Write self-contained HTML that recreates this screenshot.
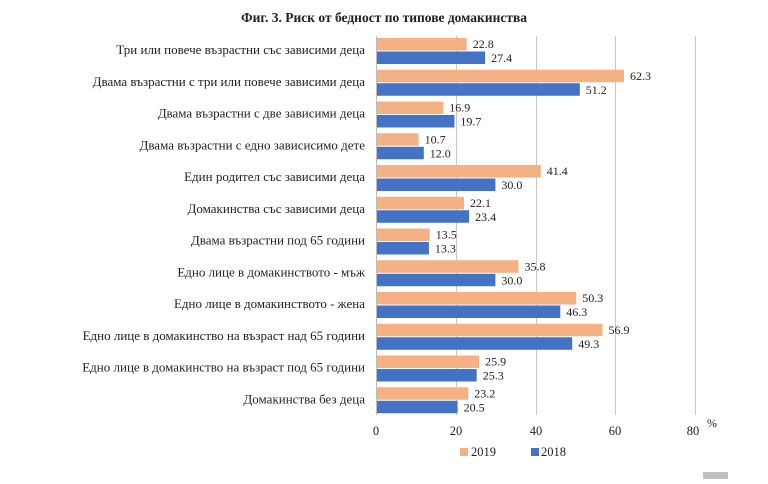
<!DOCTYPE html>
<html><head><meta charset="utf-8"><style>
body{margin:0;background:#fff;}
svg text{font-family:"Liberation Serif",serif;fill:#222;}
.o{fill:#f4b183}.b{fill:#4472c4}
</style></head><body>
<svg width="768" height="479" xmlns="http://www.w3.org/2000/svg">
<text x="384" y="22" text-anchor="middle" font-size="13.5" font-weight="bold">Фиг. 3. Риск от бедност по типове домакинства</text>
<g stroke="#c8c8c8" stroke-width="1">
<line x1="456.5" y1="36" x2="456.5" y2="415"/>
<line x1="536.5" y1="36" x2="536.5" y2="415"/>
<line x1="615.5" y1="36" x2="615.5" y2="415"/>
<line x1="695.5" y1="36" x2="695.5" y2="415"/>
</g>
<g font-size="13" text-anchor="end">
<text x="365" y="54">Три или повече възрастни със зависими деца</text>
<text x="365" y="85.75">Двама възрастни с три или повече зависими деца</text>
<text x="365" y="117.5">Двама възрастни с две зависими деца</text>
<text x="365" y="149.25">Двама възрастни с едно зависисимо дете</text>
<text x="365" y="181">Един родител със зависими деца</text>
<text x="365" y="212.75">Домакинства със зависими деца</text>
<text x="365" y="244.5">Двама възрастни под 65 години</text>
<text x="365" y="276.25">Едно лице в домакинството - мъж</text>
<text x="365" y="308">Едно лице в домакинството - жена</text>
<text x="365" y="339.75">Едно лице в домакинство на възраст над 65 години</text>
<text x="365" y="371.5">Едно лице в домакинство на възраст под 65 години</text>
<text x="365" y="403.25">Домакинства без деца</text>
</g>
<g>
<rect class="o" x="376" y="38" width="90.7" height="12.5"/><rect class="b" x="376" y="51.5" width="109.1" height="12.5"/>
<rect class="o" x="376" y="69.75" width="248" height="12.5"/><rect class="b" x="376" y="83.25" width="203.8" height="12.5"/>
<rect class="o" x="376" y="101.5" width="67.3" height="12.5"/><rect class="b" x="376" y="115" width="78.4" height="12.5"/>
<rect class="o" x="376" y="133.25" width="42.6" height="12.5"/><rect class="b" x="376" y="146.75" width="47.8" height="12.5"/>
<rect class="o" x="376" y="165" width="164.8" height="12.5"/><rect class="b" x="376" y="178.5" width="119.4" height="12.5"/>
<rect class="o" x="376" y="196.75" width="88" height="12.5"/><rect class="b" x="376" y="210.25" width="93.1" height="12.5"/>
<rect class="o" x="376" y="228.5" width="53.7" height="12.5"/><rect class="b" x="376" y="242" width="52.9" height="12.5"/>
<rect class="o" x="376" y="260.25" width="142.5" height="12.5"/><rect class="b" x="376" y="273.75" width="119.4" height="12.5"/>
<rect class="o" x="376" y="292" width="200.2" height="12.5"/><rect class="b" x="376" y="305.5" width="184.3" height="12.5"/>
<rect class="o" x="376" y="323.75" width="226.5" height="12.5"/><rect class="b" x="376" y="337.25" width="196.2" height="12.5"/>
<rect class="o" x="376" y="355.5" width="103.1" height="12.5"/><rect class="b" x="376" y="369" width="100.7" height="12.5"/>
<rect class="o" x="376" y="387.25" width="92.3" height="12.5"/><rect class="b" x="376" y="400.75" width="81.6" height="12.5"/>
</g>
<g font-size="12">
<text x="472.7" y="48">22.8</text><text x="491.1" y="62">27.4</text>
<text x="630" y="79.75">62.3</text><text x="585.8" y="93.75">51.2</text>
<text x="449.3" y="111.5">16.9</text><text x="460.4" y="125.5">19.7</text>
<text x="424.6" y="143.25">10.7</text><text x="429.8" y="157.25">12.0</text>
<text x="546.8" y="175">41.4</text><text x="501.4" y="189">30.0</text>
<text x="470" y="206.75">22.1</text><text x="475.1" y="220.75">23.4</text>
<text x="435.7" y="238.5">13.5</text><text x="434.9" y="252.5">13.3</text>
<text x="524.5" y="270.25">35.8</text><text x="501.4" y="284.25">30.0</text>
<text x="582.2" y="302">50.3</text><text x="566.3" y="316">46.3</text>
<text x="608.5" y="333.75">56.9</text><text x="578.2" y="347.75">49.3</text>
<text x="485.1" y="365.5">25.9</text><text x="482.7" y="379.5">25.3</text>
<text x="474.3" y="397.25">23.2</text><text x="463.6" y="411.25">20.5</text>
</g>
<line x1="376.5" y1="36" x2="376.5" y2="415" stroke="#bbb"/>
<g font-size="12.5" text-anchor="middle">
<text x="376" y="435">0</text><text x="456" y="435">20</text><text x="536" y="435">40</text><text x="615" y="435">60</text><text x="693" y="435">80</text>
</g>
<text x="707" y="427" font-size="12">%</text>
<rect x="460" y="448" width="8" height="8" fill="#f4b183"/><text x="471" y="456" font-size="12.5">2019</text>
<rect x="531" y="448" width="8" height="8" fill="#4472c4"/><text x="541" y="456" font-size="12.5">2018</text>
<rect x="703" y="472" width="25" height="7" fill="#c0c0c0"/>
</svg>
</body></html>
